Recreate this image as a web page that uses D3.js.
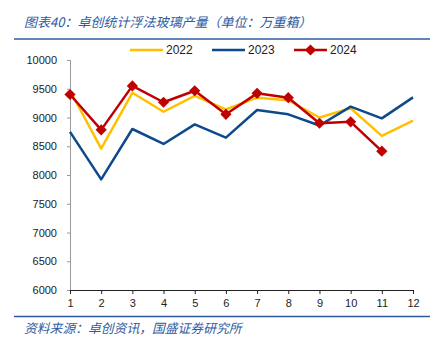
<!DOCTYPE html>
<html>
<head>
<meta charset="utf-8">
<script src="https://cdn.jsdelivr.net/npm/d3@7"></script>
<style>
  body { margin: 0; background: #fff; }
  svg { display: block; }
</style>
</head>
<body>
<div id="wrapper"></div>
<script>
const months = [1, 2, 3, 4, 5, 6, 7, 8, 9, 10, 11, 12]
const yTicks = [6000, 6500, 7000, 7500, 8000, 8500, 9000, 9500, 10000]
const s2022 = [9470, 8460, 9430, 9100, 9375, 9140, 9345, 9300, 9000, 9160, 8680, 8945]
const s2023 = [8750, 7925, 8800, 8540, 8880, 8650, 9130, 9055, 8860, 9190, 8985, 9350]
const s2024 = [9400, 8785, 9550, 9265, 9465, 9055, 9420, 9345, 8900, 8925, 8415]

const series = [
    { name: '2022', values: s2022, color: '#FFC000', marker: false },
    { name: '2023', values: s2023, color: '#0D4A8C', marker: false },
    { name: '2024', values: s2024, color: '#C00000', marker: true }
]

const dms = {
    width: 446,
    height: 351,
    margin: { top: 60, right: 33, bottom: 61, left: 70 }
}
dms.chartWidth = dms.width - dms.margin.left - dms.margin.right
dms.chartHeight = dms.height - dms.margin.top - dms.margin.bottom

const blue = '#2E5B9F'
const font = '"Noto Sans CJK SC", "Noto Sans", sans-serif'

const svg = d3.select('#wrapper')
    .append('svg')
    .attr('width', dms.width)
    .attr('height', dms.height)

// title + rules
svg.append('text')
    .attr('x', 24)
    .attr('y', 27)
    .text('图表40：卓创统计浮法玻璃产量（单位：万重箱）')
    .style('font-family', font)
    .style('font-style', 'italic')
    .style('font-size', '13px')
    .attr('fill', blue)
svg.append('line')
    .attr('x1', 14).attr('x2', 430)
    .attr('y1', 39).attr('y2', 39)
    .attr('stroke', blue).attr('stroke-width', 1.5)
svg.append('line')
    .attr('x1', 14).attr('x2', 430)
    .attr('y1', 316.5).attr('y2', 316.5)
    .attr('stroke', blue).attr('stroke-width', 1.5)
svg.append('text')
    .attr('x', 24)
    .attr('y', 333)
    .text('资料来源：卓创资讯，国盛证券研究所')
    .style('font-family', font)
    .style('font-style', 'italic')
    .style('font-size', '12.8px')
    .attr('fill', blue)

const bounds = svg.append('g')
    .attr('transform', `translate(${dms.margin.left}, ${dms.margin.top})`)

const xScale = d3.scaleLinear()
    .domain([1, 12])
    .range([0, dms.chartWidth])
const yScale = d3.scaleLinear()
    .domain([6000, 10000])
    .range([dms.chartHeight, 0])

// y axis
const yAxis = bounds.append('g')
    .call(d3.axisLeft(yScale).tickValues(yTicks).tickSize(3).tickFormat(d3.format('d')))
yAxis.select('.domain').attr('stroke', '#999')
yAxis.selectAll('.tick line').attr('stroke', '#999')
yAxis.selectAll('text')
    .attr('x', -13)
    .style('font-family', '"Liberation Sans", Arial, sans-serif')
    .style('font-size', '11px')
    .attr('fill', '#222')

// x axis
const xAxis = bounds.append('g')
    .attr('transform', `translate(0, ${dms.chartHeight})`)
    .call(d3.axisBottom(xScale).tickValues(months).tickSize(4).tickSizeOuter(0))
xAxis.select('.domain').attr('stroke', '#222')
xAxis.selectAll('.tick line').attr('stroke', '#222')
xAxis.selectAll('text')
    .attr('y', 9)
    .style('font-family', '"Liberation Sans", Arial, sans-serif')
    .style('font-size', '11px')
    .attr('fill', '#222')

const lineGen = d3.line()
    .x((d, i) => xScale(months[i]))
    .y(d => yScale(d))

const diamond = d3.symbol().type(d3.symbolDiamond2).size(80)

series.forEach(s => {
    bounds.append('path')
        .datum(s.values)
        .attr('d', lineGen)
        .attr('fill', 'none')
        .attr('stroke', s.color)
        .attr('stroke-width', 2.5)
        .attr('stroke-linejoin', 'round')
    if (s.marker) {
        bounds.selectAll(null)
            .data(s.values)
            .join('path')
            .attr('d', diamond)
            .attr('transform', (d, i) => `translate(${xScale(months[i])}, ${yScale(d)})`)
            .attr('fill', s.color)
    }
})

// legend
const legendX = [130, 212, 294]
const legend = svg.append('g')
series.forEach((s, i) => {
    const g = legend.append('g')
        .attr('transform', `translate(${legendX[i]}, 50)`)
    g.append('line')
        .attr('x1', 0).attr('x2', 33)
        .attr('stroke', s.color)
        .attr('stroke-width', 2.5)
    if (s.marker) {
        g.append('path')
            .attr('d', diamond)
            .attr('transform', 'translate(16.5, 0)')
            .attr('fill', s.color)
    }
    g.append('text')
        .attr('x', 36)
        .attr('y', 4)
        .text(s.name)
        .style('font-family', '"Liberation Sans", Arial, sans-serif')
        .style('font-size', '12px')
        .attr('fill', '#222')
})
</script>
</body>
</html>
